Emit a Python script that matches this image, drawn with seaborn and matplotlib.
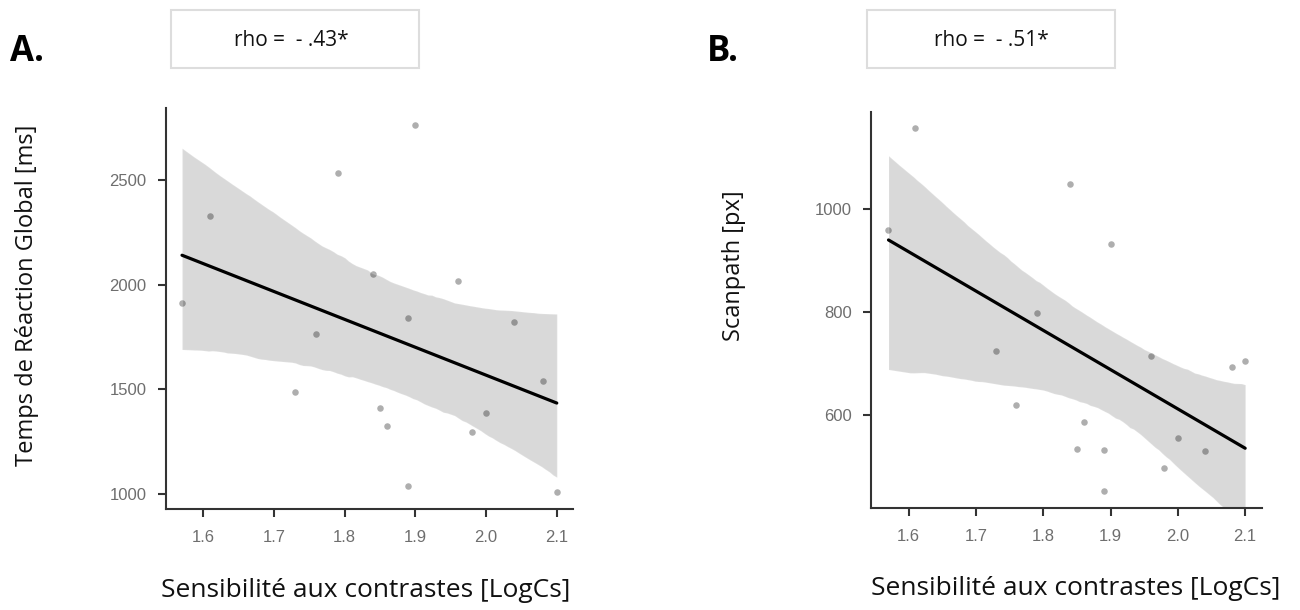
"""Scatter + regression panels: contrast sensitivity vs RT and scanpath."""

import matplotlib

matplotlib.use("Agg")

import matplotlib.pyplot as plt
import pandas as pd
import seaborn as sns
from matplotlib.patches import Rectangle

# values
contrast = [1.57, 1.61, 1.73, 1.76, 1.79, 1.84, 1.85, 1.86, 1.89,
            1.89, 1.90, 1.96, 1.98, 2.00, 2.04, 2.08, 2.10]
reaction_time = [1914, 2328, 1487, 1764, 2535, 2051, 1412, 1324, 1839,
                 1036, 2764, 2019, 1295, 1388, 1820, 1538, 1006]
scanpath = [960, 1158, 725, 620, 799, 1049, 533, 587, 531,
            452, 932, 715, 496, 554, 530, 694, 705]

x_ticks = [1.6, 1.7, 1.8, 1.9, 2.0, 2.1]
rt_ticks = [1000, 1500, 2000, 2500]
scan_ticks = [600, 800, 1000]

x_label = "Sensibilité aux contrastes [LogCs]"
rt_label = "Temps de Réaction Global [ms]"
scan_label = "Scanpath [px]"
rho_texts = ["rho =  - .43*", "rho =  - .51*"]
panel_letters = ["A.", "B."]

df = pd.DataFrame({"contrast": contrast, "rt": reaction_time, "scan": scanpath})

sns.set_style("ticks")
plt.rcParams["font.family"] = ["Open Sans", "DejaVu Sans"]

fig = plt.figure(figsize=(13, 6.1), dpi=100)
ax_a = fig.add_axes([0.1275, 0.165, 0.3133, 0.658])
ax_b = fig.add_axes([0.670, 0.1667, 0.3005, 0.650])

panels = [
    (ax_a, "rt", 97, rt_ticks, (925, 2847), (1.547, 2.123), rt_label, (-0.31, 0.534), 0.49),
    (ax_b, "scan", 95, scan_ticks, (418, 1190), (1.544, 2.1245), scan_label, (-0.32, 0.611), 0.525),
]

for ax, col, ci, yticks, ylim, xlim, ylabel, ylab_pos, xlab_x in panels:
    sns.regplot(
        data=df, x="contrast", y=col, ax=ax, ci=ci, n_boot=2000, seed=3,
        scatter_kws={"color": "#9a9a9a", "s": 22, "linewidths": 0},
        line_kws={"color": "black", "linewidth": 2.3},
    )
    ax.set_xlim(*xlim)
    ax.set_ylim(*ylim)
    ax.set_xticks(x_ticks)
    ax.set_xticklabels([f"{t:.1f}" for t in x_ticks])
    ax.set_yticks(yticks)
    for lab in ax.get_xticklabels() + ax.get_yticklabels():
        lab.set_family(["Liberation Sans", "DejaVu Sans"])
        lab.set_fontsize(12)
        lab.set_color("#6e6e6e")
    ax.tick_params(length=6, width=1.5, color="#333333")
    ax.tick_params(axis="x", pad=9)
    ax.tick_params(axis="y", pad=8)
    for side in ("left", "bottom"):
        ax.spines[side].set_color("#333333")
        ax.spines[side].set_linewidth(1.5)
    sns.despine(ax=ax)

    ax.set_xlabel(x_label, fontsize=19, color="#111111")
    ax.xaxis.set_label_coords(xlab_x, -0.17)
    ax.set_ylabel(ylabel, fontsize=17, color="#111111")
    ax.yaxis.set_label_coords(*ylab_pos)

# rho boxes and panel letters
for left, cx, text in [(171, 291, rho_texts[0]), (867, 991, rho_texts[1])]:
    fig.patches.append(Rectangle(
        (left / 1300, 1 - 68 / 610), 248 / 1300, 58 / 610,
        transform=fig.transFigure, facecolor="white",
        edgecolor="#dddddd", linewidth=1.5,
    ))
    fig.text(cx / 1300, 1 - 40 / 610, text, ha="center", va="center",
             fontsize=15, color="#111111")

for x, letter in [(27, panel_letters[0]), (723, panel_letters[1])]:
    fig.text(x / 1300, 1 - 52 / 610, letter, ha="center", va="center",
             fontsize=25, fontweight="bold", color="black")

fig.savefig("out.png", dpi=100)
plt.close(fig)
